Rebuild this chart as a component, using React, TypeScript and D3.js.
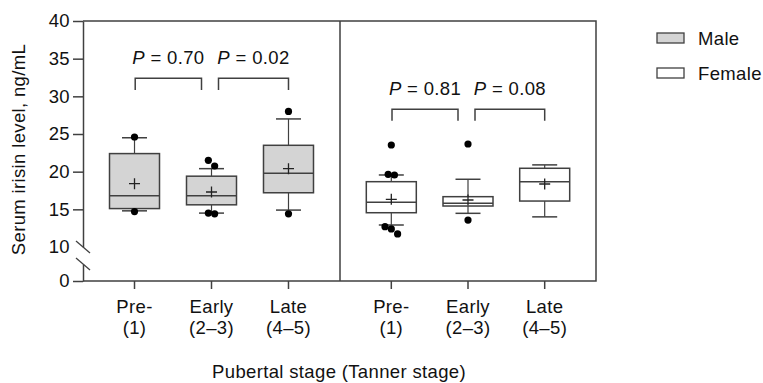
import { useRef, useEffect } from "react"
import * as d3 from "d3"

// categories
const stages = ["Pre-", "Early", "Late"]
const stageNumbers = ["(1)", "(2–3)", "(4–5)"]
const sexes = ["Male", "Female"]

// box stats (ng/mL)
const maleQ1 = [15.1, 15.6, 17.2]
const maleMedian = [16.8, 16.8, 19.8]
const maleQ3 = [22.4, 19.4, 23.5]
const maleLow = [14.8, 14.5, 14.9]
const maleHigh = [24.5, 20.4, 27.0]
const maleMean = [18.4, 17.3, 20.4]
const maleDots = [[24.6, 14.7], [21.5, 20.75, 14.5, 14.4], [28.0, 14.4]]

const femaleQ1 = [14.55, 15.44, 16.1]
const femaleMedian = [15.93, 15.8, 18.67]
const femaleQ3 = [18.67, 16.68, 20.45]
const femaleLow = [12.92, 14.47, 14.0]
const femaleHigh = [19.56, 18.99, 20.9]
const femaleMean = [16.33, 16.24, 18.36]
const femaleDots = [[23.54, 19.65, 19.56, 12.7, 12.4, 11.73], [23.67, 13.58], []]

// p values between neighbouring stages, and bracket level
const maleP = ["0.70", "0.02"]
const femaleP = ["0.81", "0.08"]
const bracketLevel = [32.4, 28.3]

const yTicksUpper = [10, 15, 20, 25, 30, 35, 40]
const yTicksLower = [0]

const FONT = "'Liberation Sans', Arial, sans-serif"
const FS = 18.5
const LS = "0.35px"
const INK = "#404040"

export default function App() {
  const svgRef = useRef<SVGSVGElement | null>(null)

  useEffect(() => {
    if (!svgRef.current) return
    const svg = d3.select(svgRef.current)
    svg.selectAll("*").remove()

    const left = 83
    const right = 596
    const top = 21
    const bottom = 281
    const divider = 340

    // broken y axis: 0–10 squeezed below, 10–40 above
    const yUpper = d3.scaleLinear().domain([10, 40]).range([247, top])
    const yLower = d3.scaleLinear().domain([0, 10]).range([bottom, 247])
    const y = (v: number) => (v >= 10 ? yUpper(v) : yLower(v))

    const panels = [
      {
        sex: sexes[0],
        fill: "#d4d4d4",
        x: d3.scalePoint<string>().domain(stages).range([left, divider]).padding(0.669),
        q1: maleQ1, med: maleMedian, q3: maleQ3, lo: maleLow, hi: maleHigh, mean: maleMean, dots: maleDots,
        p: maleP, level: bracketLevel[0],
      },
      {
        sex: sexes[1],
        fill: "#ffffff",
        x: d3.scalePoint<string>().domain(stages).range([divider, right]).padding(0.669),
        q1: femaleQ1, med: femaleMedian, q3: femaleQ3, lo: femaleLow, hi: femaleHigh, mean: femaleMean, dots: femaleDots,
        p: femaleP, level: bracketLevel[1],
      },
    ]

    const g = svg.append("g")

    const label = (sel: any) =>
      sel
        .attr("font-family", FONT)
        .attr("font-size", FS)
        .attr("letter-spacing", LS)
        .attr("fill", "#111")

    // frame
    g.append("path")
      .attr("d", `M${left},${top}H${right}V${bottom}H${left}M${divider},${top}V${bottom}`)
      .attr("fill", "none")
      .attr("stroke", INK)
      .attr("stroke-width", 1.5)

    // y axis (upper)
    const axUp = g
      .append("g")
      .attr("transform", `translate(${left},0)`)
      .call(
        d3.axisLeft(yUpper).tickValues(yTicksUpper).tickFormat(d3.format("d")).tickSize(10).tickSizeOuter(0).tickPadding(3),
      )
    axUp.selectAll(".tick").filter((d) => d === 10).select("line").remove()

    // y axis (lower)
    const yLowerSeg = d3.scaleLinear().domain([0, 5]).range([bottom, yLower(5)])
    const axLo = g
      .append("g")
      .attr("transform", `translate(${left},0)`)
      .call(
        d3.axisLeft(yLowerSeg).tickValues(yTicksLower).tickFormat(d3.format("d")).tickSize(10).tickSizeOuter(0).tickPadding(3),
      )

    for (const ax of [axUp, axLo]) {
      ax.select(".domain").attr("stroke", INK).attr("stroke-width", 1.5)
      ax.selectAll(".tick line").attr("stroke", INK).attr("stroke-width", 1.5)
      label(ax.selectAll(".tick text"))
    }

    // break marks
    for (const yy of [yUpper(10), yLower(5)]) {
      g.append("line")
        .attr("x1", left - 7)
        .attr("y1", yy - 6)
        .attr("x2", left + 7)
        .attr("y2", yy + 6)
        .attr("stroke", INK)
        .attr("stroke-width", 1.3)
    }

    const boxW = 50
    const capW = 25

    panels.forEach((pn) => {
      const pg = g.append("g")

      // x ticks and labels
      stages.forEach((s, i) => {
        const cx = pn.x(s) as number
        pg.append("line")
          .attr("x1", cx).attr("x2", cx)
          .attr("y1", bottom).attr("y2", bottom + 8)
          .attr("stroke", INK).attr("stroke-width", 1.5)
        const t = label(pg.append("text").attr("text-anchor", "middle"))
        t.append("tspan").attr("x", cx).attr("y", 313).text(s)
        t.append("tspan").attr("x", cx).attr("y", 334).text(stageNumbers[i])
      })

      // boxes
      stages.forEach((s, i) => {
        const cx = pn.x(s) as number
        // whiskers
        pg.append("line")
          .attr("x1", cx).attr("x2", cx)
          .attr("y1", y(pn.hi[i])).attr("y2", y(pn.q3[i]))
          .attr("stroke", INK).attr("stroke-width", 1.2)
        pg.append("line")
          .attr("x1", cx).attr("x2", cx)
          .attr("y1", y(pn.q1[i])).attr("y2", y(pn.lo[i]))
          .attr("stroke", INK).attr("stroke-width", 1.2)
        for (const v of [pn.hi[i], pn.lo[i]]) {
          pg.append("line")
            .attr("x1", cx - capW / 2).attr("x2", cx + capW / 2)
            .attr("y1", y(v)).attr("y2", y(v))
            .attr("stroke", INK).attr("stroke-width", 1.5)
        }
        pg.append("rect")
          .attr("x", cx - boxW / 2)
          .attr("y", y(pn.q3[i]))
          .attr("width", boxW)
          .attr("height", y(pn.q1[i]) - y(pn.q3[i]))
          .attr("fill", pn.fill)
          .attr("stroke", INK)
          .attr("stroke-width", 1.5)
        pg.append("line")
          .attr("x1", cx - boxW / 2).attr("x2", cx + boxW / 2)
          .attr("y1", y(pn.med[i])).attr("y2", y(pn.med[i]))
          .attr("stroke", INK).attr("stroke-width", 1.5)
        // mean
        const my = y(pn.mean[i])
        pg.append("path")
          .attr("d", `M${cx - 5.5},${my}H${cx + 5.5}M${cx},${my - 5.5}V${my + 5.5}`)
          .attr("stroke", "#222").attr("stroke-width", 1.3)

        // outlier / extreme points, spread sideways when they touch
        const vals = [...pn.dots[i]].sort((a, b) => b - a)
        const clusters: number[][] = []
        vals.forEach((v) => {
          const last = clusters[clusters.length - 1]
          if (last && y(v) - y(last[last.length - 1]) < 8) last.push(v)
          else clusters.push([v])
        })
        clusters.forEach((cl) => {
          cl.forEach((v, k) => {
            pg.append("circle")
              .attr("cx", cx + (k - (cl.length - 1) / 2) * 6.3)
              .attr("cy", y(v))
              .attr("r", 3.6)
              .attr("fill", "#000")
          })
        })
      })

      // p value brackets
      const by = y(pn.level)
      pn.p.forEach((p, j) => {
        const x1 = (pn.x(stages[j]) as number) + (j === 1 ? 7 : 0.7)
        const x2 = (pn.x(stages[j + 1]) as number) - (j === 0 ? 10 : 0)
        pg.append("path")
          .attr("d", `M${x1},${by + 11.7}V${by}H${x2}V${by + 11.7}`)
          .attr("fill", "none")
          .attr("stroke", INK)
          .attr("stroke-width", 1.5)
        const t = label(
          pg.append("text")
            .attr("x", (x1 + x2) / 2)
            .attr("y", by - 14)
            .attr("text-anchor", "middle"),
        )
        t.append("tspan").attr("font-style", "italic").text("P")
        t.append("tspan").text(` = ${p}`)
      })
    })

    // legend
    panels.forEach((pn, i) => {
      const ly = 38 + i * 35
      g.append("rect")
        .attr("x", 657).attr("y", ly - 5)
        .attr("width", 27).attr("height", 10)
        .attr("fill", pn.fill)
        .attr("stroke", INK).attr("stroke-width", 1.3)
      label(g.append("text").attr("x", 698).attr("y", ly + 6.5)).text(pn.sex)
    })

    // axis titles
    label(
      g.append("text")
        .attr("transform", "translate(25,149.5) rotate(-90)")
        .attr("text-anchor", "middle"),
    ).text("Serum irisin level, ng/mL")

    label(
      g.append("text")
        .attr("x", 339)
        .attr("y", 378)
        .attr("text-anchor", "middle"),
    ).text("Pubertal stage (Tanner stage)")
  }, [])

  return (
    <svg
      ref={svgRef}
      width={763}
      height={383}
      style={{ position: "absolute", left: 0, top: 0, background: "#fff" }}
    ></svg>
  )
}
